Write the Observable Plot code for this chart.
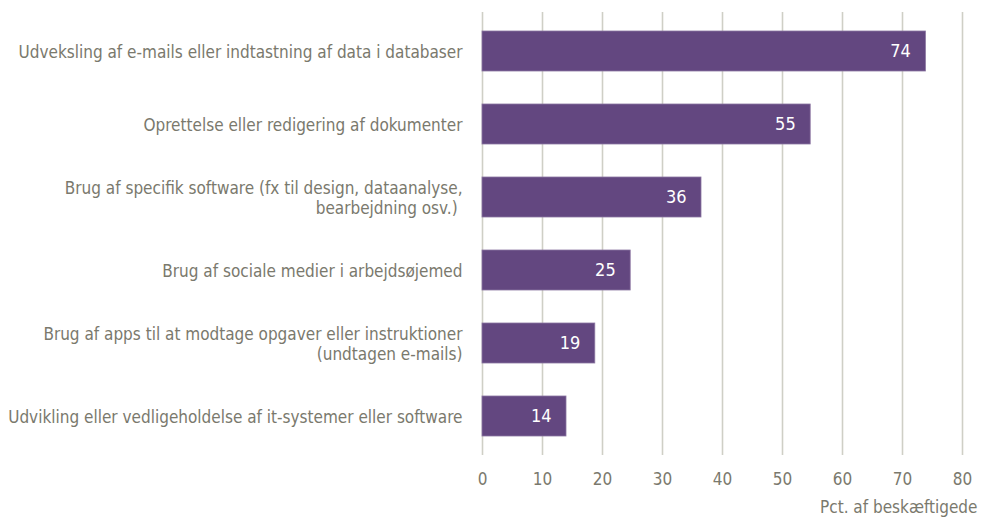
<!DOCTYPE html>
<html>
<head>
<meta charset="utf-8">
<script src="https://cdn.jsdelivr.net/npm/d3@7"></script>
<script src="https://cdn.jsdelivr.net/npm/@observablehq/plot@0.6"></script>
<style>
  html, body { margin: 0; padding: 0; background: #fff; }
  #chart svg { display: block; }
</style>
</head>
<body>
<div id="chart"></div>
<script>
const categories = [
  "Udveksling af e-mails eller indtastning af data i databaser",
  "Oprettelse eller redigering af dokumenter",
  "Brug af specifik software (fx til design, dataanalyse,\nbearbejdning osv.) ",
  "Brug af sociale medier i arbejdsøjemed",
  "Brug af apps til at modtage opgaver eller instruktioner\n(undtagen e-mails)",
  "Udvikling eller vedligeholdelse af it-systemer eller software"
];
const values = [73.9, 54.7, 36.5, 24.7, 18.8, 14.0];
const valueLabels = ["74", "55", "36", "25", "19", "14"];
const xTicks = [0, 10, 20, 30, 40, 50, 60, 70, 80];
const axisLabel = "Pct. af beskæftigede";

const data = categories.map((c, i) => ({cat: c, value: values[i], label: valueLabels[i]}));

const font = "'Liberation Sans Narrow', 'Arial Narrow', 'DejaVu Sans Condensed', sans-serif";
const textColor = "#7a796d";

const chart = Plot.plot({
  width: 982,
  height: 519,
  marginLeft: 482,
  marginRight: 20,
  marginTop: 12,
  marginBottom: 64,
  style: {fontFamily: font, fontSize: "17px", color: textColor, background: "#fff"},
  x: {domain: [0, 80], ticks: xTicks, label: null},
  y: {domain: categories, paddingInner: 0.455, paddingOuter: 0.245, label: null},
  marks: [
    Plot.gridX(xTicks, {stroke: "#cfcfc6", strokeOpacity: 1, strokeWidth: 1.6}),
    Plot.barX(data, {y: "cat", x: "value", fill: "#634780", stroke: "#8a76a0", strokeWidth: 0.8}),
    Plot.text(data, {y: "cat", x: "value", text: "label", textAnchor: "end", dx: -15, fill: "#fff", fontSize: 18}),
    Plot.axisY({tickSize: 0, tickPadding: 20, fontSize: 17, fill: textColor, lineHeight: 1.2}),
    Plot.axisX({ticks: xTicks, tickSize: 0, tickPadding: 17, fontSize: 17, fill: textColor, label: null}),
    Plot.text([axisLabel], {frameAnchor: "bottom-right", dx: 15, dy: 57, textAnchor: "end", fill: textColor, fontSize: 17})
  ]
});
document.getElementById("chart").appendChild(chart);
</script>
</body>
</html>
